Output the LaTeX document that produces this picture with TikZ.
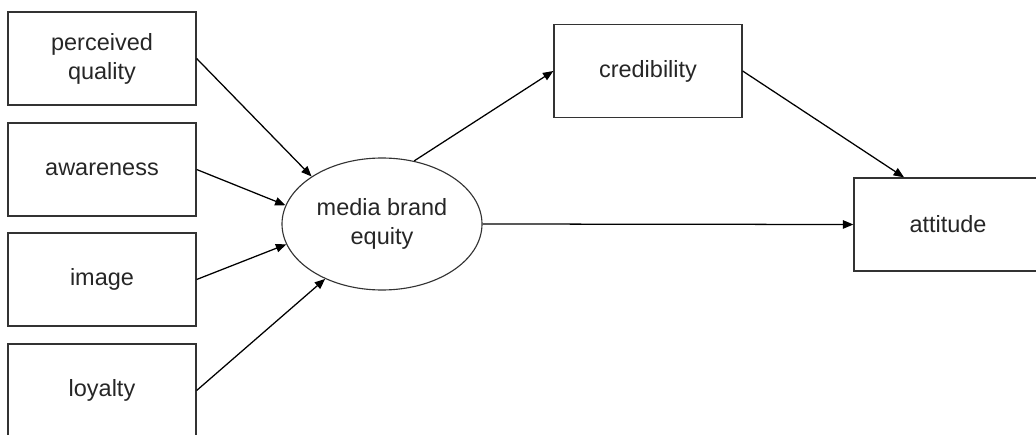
\documentclass[tikz,border=0pt]{standalone}
\usepackage{fontspec}
\setmainfont{Liberation Sans}
\usetikzlibrary{arrows.meta,shapes.geometric}

\begin{document}
\begin{tikzpicture}[
    font=\fontsize{16.7}{20.6}\selectfont,
    factor/.style={draw=black!80, line width=0.9pt, text=black!85, minimum width=4.7cm, minimum height=2.325cm, align=center, inner sep=0pt},
    latent/.style={draw=black!80, line width=0.8pt, text=black!85, ellipse, minimum width=5cm, minimum height=3.3cm, align=center, inner sep=0pt},
    path/.style={line width=0.9pt, -{Triangle[length=2.6mm,width=2.1mm]}}
  ]
  % Page frame
  \clip (0,0) rectangle (25.9,10.85);

  % Dimensions of brand equity
  \node[factor] (pq) at (2.55,9.3875) {perceived\\quality};
  \node[factor] (aw) at (2.55,6.6125) {awareness};
  \node[factor] (im) at (2.55,3.8625) {image};
  \node[factor] (lo) at (2.55,1.0875) {loyalty};

  % Latent construct
  \node[latent] (meq) at (9.55,5.25) {media brand\\equity};

  % Outcomes
  \node[factor] (cred) at (16.2,9.075) {credibility};
  \node[factor] (att) at (23.7,5.2375) {attitude};

  % Paths
  \draw[path] (pq.east) -- (meq.146);
  \draw[path] (aw.east) -- (meq.169);
  \draw[path] (im.east) -- (meq.192);
  \draw[path] (lo.east) -- (meq.224);
  \draw[path] (meq.63) -- (cred.west);
  \draw[path] (meq.east) -- (att.west);
  \draw[path] (cred.east) -- (att.133);
\end{tikzpicture}
\end{document}
